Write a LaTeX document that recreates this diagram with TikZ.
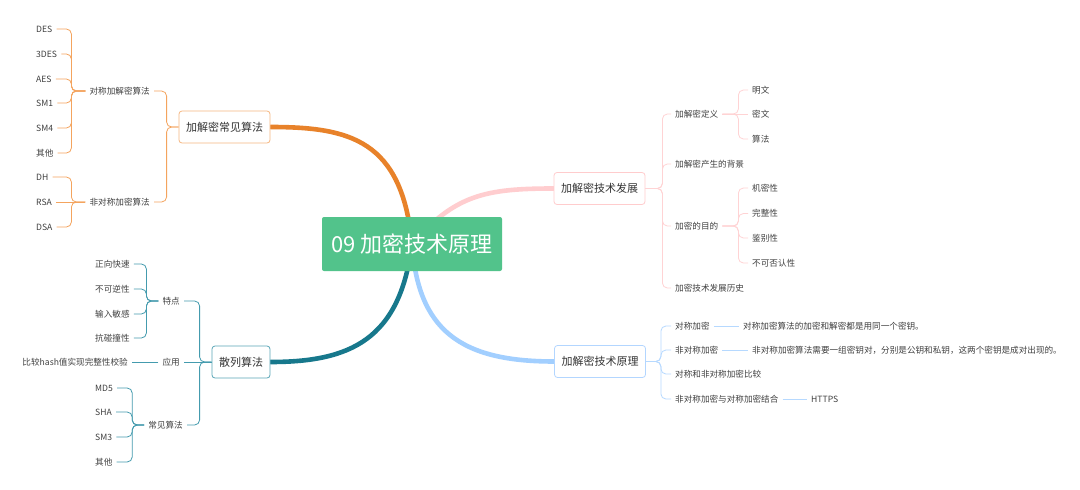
\documentclass[tikz,border=0pt]{standalone}
\usepackage{fontspec}
\setmainfont{Noto Sans CJK SC}
\usetikzlibrary{calc}
\pgfdeclarelayer{bg}
\pgfsetlayers{bg,main}
\definecolor{rootg}{HTML}{52C38B}
\definecolor{omain}{HTML}{E8822A}
\definecolor{othin}{HTML}{F4A45E}
\definecolor{obord}{HTML}{F6B882}
\definecolor{tmain}{HTML}{17788C}
\definecolor{tthin}{HTML}{449BAE}
\definecolor{tbord}{HTML}{5AA6B7}
\definecolor{pmain}{HTML}{FFCDCF}
\definecolor{pthin}{HTML}{FFD3D4}
\definecolor{pbord}{HTML}{FFCCCD}
\definecolor{bmain}{HTML}{A2CFFF}
\definecolor{bthin}{HTML}{B6D9FF}
\definecolor{bbord}{HTML}{B3D6FF}
\definecolor{leafc}{HTML}{404040}
\definecolor{boxc}{HTML}{333333}
\begin{document}
\begin{tikzpicture}[x=1pt,y=-1pt,
  txt/.style={font=\fontsize{8.6}{10}\selectfont, text=leafc, inner xsep=4pt, inner ysep=1pt},
  lw/.style={txt, anchor=west},
  le/.style={txt, anchor=east},
  mainbox/.style={draw, fill=white, rounded corners=3pt, line width=0.8pt, font=\fontsize{11}{13}\selectfont, text=boxc, minimum height=32pt, inner xsep=7pt},
  rootbox/.style={fill=rootg, rounded corners=2pt, text=white, font=\fontsize{22}{26}\selectfont, minimum width=180pt, minimum height=54pt, inner sep=0pt},
  mainline/.style={line width=4.6pt, line cap=round},
  thin/.style={line width=0.8pt, rounded corners=5pt},
]
\useasboundingbox (0,0) rectangle (1080,490);

% root and main topics
\node[rootbox] (root) at (412,244) {09 加密技术原理};
\node[mainbox, draw=obord] (A) at (224.5,127) {加解密常见算法};
\node[mainbox, draw=tbord] (B) at (241,362) {散列算法};
\node[mainbox, draw=pbord] (C) at (599.5,188.5) {加解密技术发展};
\node[mainbox, draw=bbord] (D) at (600,361.5) {加解密技术原理};

% orange subtree
\node[le] (A1) at (154,91) {对称加解密算法};
\node[le] (A2) at (154,202) {非对称加密算法};
\node[lw] (a1) at (32,29) {DES};
\node[lw] (a2) at (32,54) {3DES};
\node[lw] (a3) at (32,79) {AES};
\node[lw] (a4) at (32,103) {SM1};
\node[lw] (a5) at (32,128) {SM4};
\node[lw] (a6) at (32,153) {其他};
\node[lw] (a7) at (32,177) {DH};
\node[lw] (a8) at (32,202) {RSA};
\node[lw] (a9) at (32,227) {DSA};

% teal subtree
\node[le] (B1) at (184,301) {特点};
\node[le] (B2) at (184,362) {应用};
\node[le] (B3) at (187,425) {常见算法};
\node[lw] (b1) at (91,264) {正向快速};
\node[lw] (b2) at (91,289) {不可逆性};
\node[lw] (b3) at (91,314) {输入敏感};
\node[lw] (b4) at (91,338) {抗碰撞性};
\node[le] (b5) at (132,362) {比较hash值实现完整性校验};
\node[lw] (b6) at (91,388) {MD5};
\node[lw] (b7) at (91,412) {SHA};
\node[lw] (b8) at (91,437) {SM3};
\node[lw] (b9) at (91,462) {其他};

% pink subtree
\node[lw] (C1) at (671,114) {加解密定义};
\node[lw] (C2) at (671,164) {加解密产生的背景};
\node[lw] (C3) at (671,226) {加密的目的};
\node[lw] (C4) at (671,288) {加密技术发展历史};
\node[lw] (c1) at (748,90) {明文};
\node[lw] (c2) at (748,114) {密文};
\node[lw] (c3) at (748,139) {算法};
\node[lw] (c4) at (748,188) {机密性};
\node[lw] (c5) at (748,213.5) {完整性};
\node[lw] (c6) at (748,238) {鉴别性};
\node[lw] (c7) at (748,263) {不可否认性};

% blue subtree
\node[lw] (D1) at (671,326) {对称加密};
\node[lw] (D2) at (671,350) {非对称加密};
\node[lw] (D3) at (671,374) {对称和非对称加密比较};
\node[lw] (D4) at (671,399) {非对称加密与对称加密结合};
\node[lw] (d1) at (739,326) {对称加密算法的加密和解密都是用同一个密钥。};
\node[lw] (d2) at (748,350) {非对称加密算法需要一组密钥对，分别是公钥和私钥，这两个密钥是成对出现的。};
\node[lw] (d4) at (807,399) {HTTPS};

\begin{pgfonlayer}{bg}
\fill[white] (0,0) rectangle (1080,490);
% main branches
\draw[mainline, omain] (root.center) .. controls (402,140) and (350,127) .. (A.east);
\draw[mainline, tmain] (root.center) .. controls (400,340) and (350,362) .. (B.east);
\draw[mainline, pmain] (root.center) .. controls (455,195) and (485,188.5) .. (C.west);
\draw[mainline, bmain] (root.center) .. controls (418,330) and (460,361.5) .. (D.west);

% orange braces
\foreach \n in {A1,A2} \draw[thin, othin] (A.west) -- ++(-12,0) |- (\n.east);
\foreach \n in {a1,a2,a3,a4,a5,a6} \draw[thin, othin] (A1.west) -- ++(-14,0) |- (\n.east);
\foreach \n in {a7,a9} \draw[thin, othin] (A2.west) -- ++(-14,0) |- (\n.east);
\draw[thin, othin] (A2.west) -- (a8.east);

% teal braces
\foreach \n in {B1,B3} \draw[thin, tthin] (B.west) -- ++(-12,0) |- (\n.east);
\draw[thin, tthin] (B.west) -- (B2.east);
\foreach \n in {b1,b2,b3,b4} \draw[thin, tthin] (B1.west) -- ++(-12,0) |- (\n.east);
\draw[thin, tthin] (B2.west) -- (b5.east);
\foreach \n in {b6,b7,b8,b9} \draw[thin, tthin] (B3.west) -- ++(-12,0) |- (\n.east);

% pink braces
\foreach \n in {C1,C2,C3,C4} \draw[thin, pthin] (C.east) -- ++(17,0) |- (\n.west);
\foreach \n in {c1,c3} \draw[thin, pthin] (C1.east) -- ++(16,0) |- (\n.west);
\draw[thin, pthin] (C1.east) -- (c2.west);
\foreach \n in {c4,c5,c6,c7} \draw[thin, pthin] (C3.east) -- ++(16,0) |- (\n.west);

% blue braces
\foreach \n in {D1,D2,D3,D4} \draw[thin, bthin] (D.east) -- ++(15,0) |- (\n.west);
\draw[thin, bthin] (D1.east) -- (d1.west);
\draw[thin, bthin] (D2.east) -- (d2.west);
\draw[thin, bthin] (D4.east) -- (d4.west);
\end{pgfonlayer}
\end{tikzpicture}
\end{document}
